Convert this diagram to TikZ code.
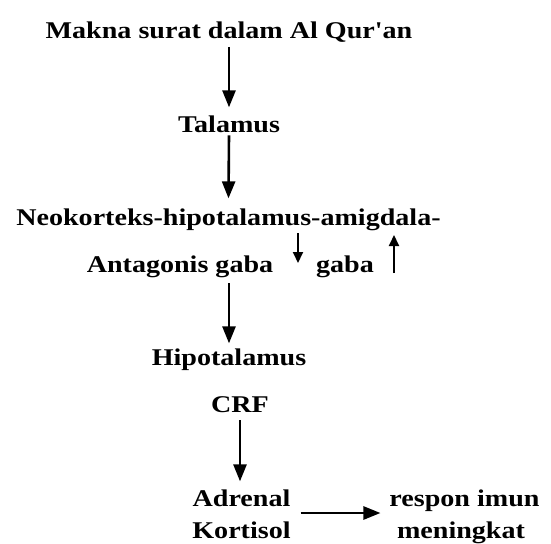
\documentclass[tikz,border=0pt]{standalone}
\usepackage{fontspec}
\setmainfont[FakeStretch=1.17]{Liberation Serif}
\newfontfamily\plainserif[FakeStretch=1.17]{Liberation Serif}
\usetikzlibrary{arrows.meta,calc}
\begin{document}
\begin{tikzpicture}[x=1pt,y=-1pt,
  lbl/.style={inner sep=0pt,outer sep=0pt,anchor=base,font=\fontsize{24}{26}\selectfont\bfseries},
  arr/.style={line width=2.6pt,-{Triangle[length=17pt,width=13pt]}},
  sarr/.style={line width=2pt,-{Triangle[length=11pt,width=10pt]}}]
\useasboundingbox (0,0) rectangle (551,543);
\node[lbl] (title) at (229,39) {Makna surat dalam Al Qur{\plainserif\bfseries'}an};
\node[lbl] (tal) at (229,132) {Talamus};
\node[lbl] (neo) at (228.5,225) {Neokorteks-hipotalamus-amigdala-};
\node[lbl] (antag) at (180,272) {Antagonis gaba};
\node[lbl] (gaba) at (345,272) {gaba};
\node[lbl] (hipo) at (229,365) {Hipotalamus};
\node[lbl] (crf) at (240,412) {CRF};
\node[lbl] (adr) at (241.5,506) {Adrenal};
\node[lbl] (kort) at (241.5,538) {Kortisol};
\node[lbl] (resp) at (464.5,506) {respon imun};
\node[lbl] (men) at (461,538) {meningkat};
\coordinate (dn) at (298,233);
\coordinate (up) at (394,273);
\draw[arr] ($(title.south)+(0,4)$) -- ($(tal.north)+(0,-8)$);
\draw[arr] ($(tal.south)+(0,3)$) -- ($(neo.north)+(0,-10)$);
\draw[sarr] (dn) -- ($(dn)+(0,30)$);
\draw[sarr] (up) -- ($(up)+(0,-38)$);
\draw[arr] ($(tal.center |- antag.south)+(0,6)$) -- ($(tal.center |- hipo.north)+(0,-5)$);
\draw[arr] ($(crf.south)+(0,8)$) -- ($(crf.south |- adr.north)+(0,-8)$);
\draw[arr] ($(kort.east |- 0,513)+(10,0)$) -- ($(resp.west |- 0,513)+(-9,0)$);
\end{tikzpicture}
\end{document}
